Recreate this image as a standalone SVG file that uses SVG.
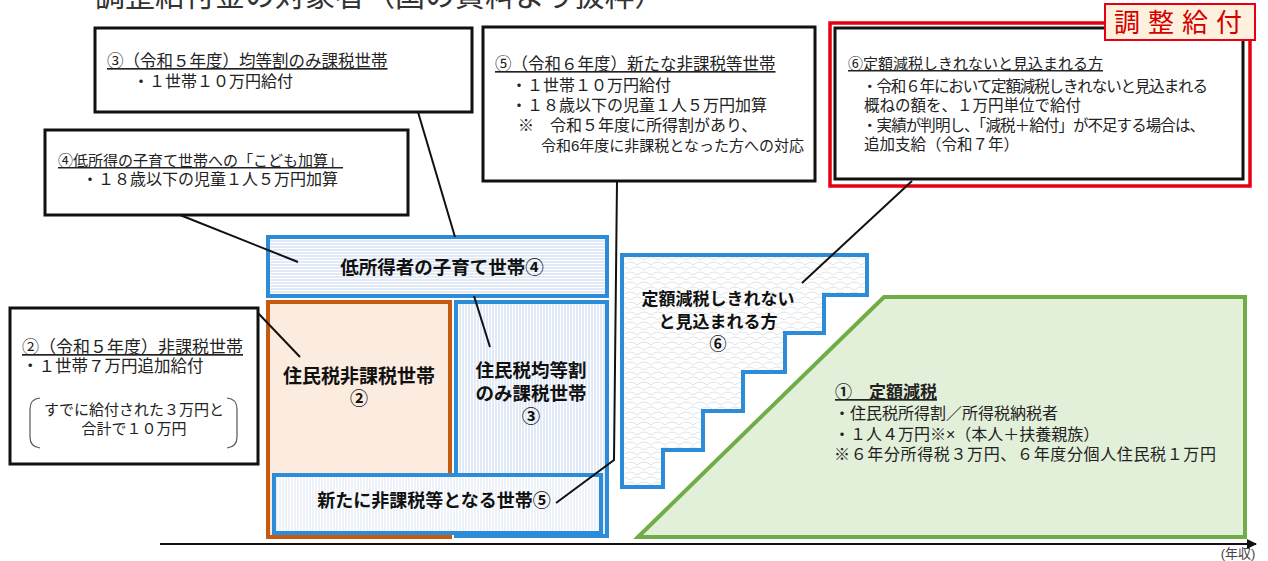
<svg xmlns="http://www.w3.org/2000/svg" width="1268" height="561" viewBox="0 0 1268 561">
<style>
text{font-family:"Liberation Sans","Noto Sans CJK JP",sans-serif;fill:#222;}
.box{fill:#fff;stroke:#111;stroke-width:3;}
.t{font-size:16px;}
.ul{text-decoration:underline;}
.big{font-size:18px;font-weight:bold;fill:#111;}
.conn{stroke:#111;stroke-width:2;fill:none;}
.blue{stroke:#2d8cd8;stroke-width:4;}
</style>
<defs>
<pattern id="hH" width="6" height="3" patternUnits="userSpaceOnUse"><rect width="6" height="3" fill="#fff"/><line x1="0" y1="1" x2="6" y2="1" stroke="#c3d6ee" stroke-width="1"/></pattern>
<pattern id="hV" width="3" height="6" patternUnits="userSpaceOnUse"><rect width="3" height="6" fill="#fff"/><line x1="1" y1="0" x2="1" y2="6" stroke="#c3d6ee" stroke-width="1"/></pattern>
<pattern id="hV2" width="3" height="6" patternUnits="userSpaceOnUse"><rect width="3" height="6" fill="#fff"/><line x1="1" y1="0" x2="1" y2="6" stroke="#dde7f3" stroke-width="1"/></pattern>
<pattern id="shingle" width="14" height="10" patternUnits="userSpaceOnUse"><rect width="14" height="10" fill="#fff"/><path d="M0,10 Q7,4 14,10 M-7,5 Q0,-1 7,5 M7,5 Q14,-1 21,5" fill="none" stroke="#e0e3e8" stroke-width="1"/></pattern>
<marker id="arr" viewBox="0 0 10 10" refX="9" refY="5" markerWidth="5" markerHeight="5" orient="auto" markerUnits="strokeWidth"><path d="M0,0 L10,5 L0,10 Z" fill="#111"/></marker>
</defs>
<rect width="1268" height="561" fill="#fff"/>

<text x="95" y="6" style="font-size:30px;fill:#333">調整給付金の対象者（国の資料より抜粋）</text>

<g id="axis">
<line x1="160" y1="544" x2="1256" y2="544" stroke="#111" stroke-width="2" marker-end="url(#arr)"/>
<text x="1238" y="558" text-anchor="middle" style="font-size:13px;fill:#444">(年収)</text>
</g>

<g id="green-teigaku">
<path d="M884,297 H1245 V537 H638 Z" fill="#e2efd9" stroke="#70ad47" stroke-width="4"/>
<text class="t"><tspan x="835" y="398" class="ul" style="font-size:17px;font-weight:bold">①　定額減税</tspan><tspan x="834" y="419">・住民税所得割／所得税納税者</tspan><tspan x="834" y="440">・１人４万円※×（本人＋扶養親族）</tspan><tspan x="834" y="460" textLength="382" lengthAdjust="spacing">※６年分所得税３万円、６年度分個人住民税１万円</tspan></text>
</g>

<g id="stair">
<path d="M622,255 H867 V295 H824 V333 H785 V372 H743 V411 H703 V450 H663 V487 H622 Z" fill="url(#shingle)" class="blue"/>
<text text-anchor="middle" class="big" style="font-size:17px"><tspan x="718" y="305">定額減税しきれない</tspan><tspan x="718" y="328">と見込まれる方</tspan><tspan x="718" y="350">⑥</tspan></text>
</g>

<g id="hikazei">
<rect x="268" y="302" width="182" height="235" fill="#fcebdf" stroke="#c55a11" stroke-width="4"/>
<text text-anchor="middle" class="big"><tspan x="359" y="383" style="font-size:19px">住民税非課税世帯</tspan><tspan x="359" y="405">②</tspan></text>
</g>

<g id="kintouwari">
<rect x="456" y="302" width="151" height="234" fill="url(#hV)" class="blue"/>
<text text-anchor="middle" class="big" style="font-size:18.5px"><tspan x="531" y="377">住民税均等割</tspan><tspan x="531" y="400">のみ課税世帯</tspan><tspan x="531" y="423">③</tspan></text>
</g>

<g id="kosodate">
<rect x="268" y="237" width="339" height="59" fill="url(#hH)" class="blue"/>
<text x="442" y="274" text-anchor="middle" class="big" style="font-size:18.5px">低所得者の子育て世帯④</text>
</g>

<g id="aratani">
<rect x="274" y="475" width="327" height="58" fill="url(#hV2)" class="blue"/>
<text x="434" y="507" text-anchor="middle" class="big">新たに非課税等となる世帯⑤</text>
</g>

<g id="box3">
<rect x="95" y="28" width="377" height="84" class="box"/>
<text class="t"><tspan x="107" y="67" class="ul" style="font-size:16.5px">③（令和５年度）均等割のみ課税世帯</tspan><tspan x="133" y="87">・１世帯１０万円給付</tspan></text>
</g>

<g id="box4">
<rect x="45" y="130" width="363" height="85" class="box"/>
<text class="t"><tspan x="58" y="166" class="ul" style="font-size:15px">④低所得の子育て世帯への「こども加算」</tspan><tspan x="82" y="185">・１８歳以下の児童１人５万円加算</tspan></text>
</g>

<g id="box2">
<rect x="10" y="308" width="248" height="156" class="box"/>
<text style="font-size:16.5px"><tspan x="22" y="353" class="ul" style="font-size:17px">②（令和５年度）非課税世帯</tspan><tspan x="22" y="372">・１世帯７万円追加給付</tspan></text>
<path d="M40,398 Q30,399 30,409 V437 Q30,447 40,448 M227,398 Q237,399 237,409 V437 Q237,447 227,448" fill="none" stroke="#555" stroke-width="1.2"/>
<text text-anchor="middle" style="font-size:15px"><tspan x="134" y="415">すでに給付された３万円と</tspan><tspan x="134" y="434">合計で１０万円</tspan></text>
</g>

<g id="box5">
<rect x="483" y="27" width="332" height="154" class="box"/>
<text class="t"><tspan x="495" y="70" class="ul" style="font-size:16.5px">⑤（令和６年度）新たな非課税等世帯</tspan><tspan x="511" y="91">・１世帯１０万円給付</tspan><tspan x="511" y="111">・１８歳以下の児童１人５万円加算</tspan><tspan x="518" y="131">※　令和５年度に所得割があり、</tspan><tspan x="541" y="151" style="font-size:15px">令和6年度に非課税となった方への対応</tspan></text>
</g>

<g id="box6">
<rect x="830" y="23" width="420" height="163" fill="none" stroke="#e60012" stroke-width="3.5"/>
<rect x="835" y="28" width="408" height="151" class="box"/>
<text style="font-size:15.5px"><tspan x="848" y="69" class="ul" style="font-size:15px">⑥定額減税しきれないと見込まれる方</tspan><tspan x="862" y="92" textLength="346" lengthAdjust="spacing">・令和６年において定額減税しきれないと見込まれる</tspan><tspan x="864" y="111">概ねの額を、１万円単位で給付</tspan><tspan x="862" y="131" textLength="343" lengthAdjust="spacing">・実績が判明し、「減税＋給付」が不足する場合は、</tspan><tspan x="864" y="150">追加支給（令和７年）</tspan></text>
</g>

<g id="label-chousei">
<rect x="1105" y="4" width="150" height="36" fill="#fdf0dc" stroke="#e60012" stroke-width="2"/>
<text x="1182" y="32" text-anchor="middle" style="font-size:26px;fill:#d40000;letter-spacing:8px">調整給付</text>
</g>

<g id="connectors">
<line class="conn" x1="418" y1="112" x2="455" y2="237"/>
<line class="conn" x1="474" y1="296" x2="490" y2="347"/>
<line class="conn" x1="180" y1="215" x2="298" y2="262"/>
<line class="conn" x1="258" y1="313" x2="300" y2="357"/>
<path class="conn" d="M617,181 L614,460 L556,503"/>
<line class="conn" x1="912" y1="181" x2="802" y2="283"/>
</g>
</svg>
